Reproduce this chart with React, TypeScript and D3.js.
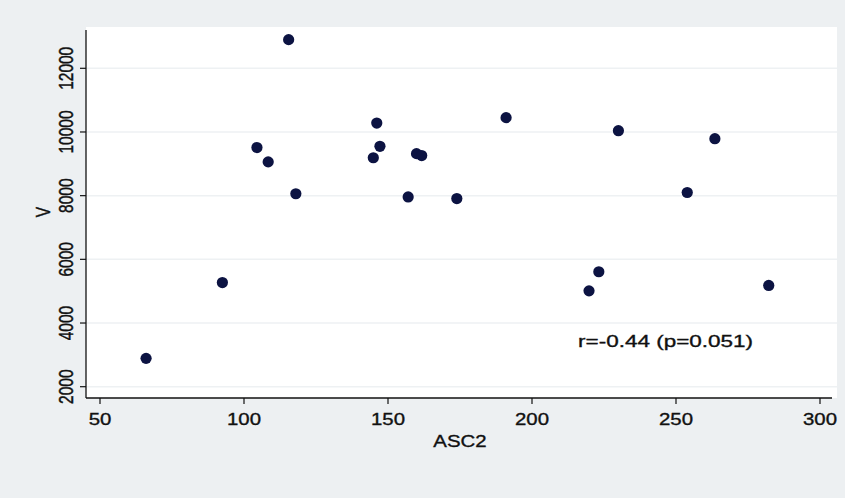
import React from "react";
import * as d3 from "d3";

const ascValues = [66, 92.5, 104.5, 108.4, 115.5, 118, 144.9, 146.1, 147.2, 157, 159.9, 161.7, 173.9, 191, 219.8, 223.2, 230, 253.9, 263.5, 282.2];
const vValues = [2890, 5270, 9510, 9060, 12900, 8060, 9190, 10280, 9550, 7960, 9320, 9260, 7910, 10450, 5010, 5610, 10040, 8100, 9790, 5180];
const xTicks = [50, 100, 150, 200, 250, 300];
const yTicks = [2000, 4000, 6000, 8000, 10000, 12000];
const xTitle = "ASC2";
const yTitle = "V";
const annotation = "r=-0.44 (p=0.051)";

const W = 845;
const H = 498;

export default function App() {
  const x = d3.scaleLinear().domain([50, 300]).range([100, 820]);
  const y = d3.scaleLinear().domain([2000, 12000]).range([386.7, 68.3]);
  const axisX = 86;
  const axisY = 398;
  const font = "'Liberation Sans', Arial, Helvetica, sans-serif";
  const ink = "#111111";
  const textStroke = { stroke: ink, strokeWidth: 0.35 };
  return (
    <svg width={W} height={H} style={{ position: "fixed", left: 0, top: 0 }} fontFamily={font}>
      <rect x={0} y={0} width={W} height={H} fill="#edf0f2" />
      <rect x={axisX} y={27} width={837 - axisX} height={axisY - 27} fill="#ffffff" />
      {yTicks.map((t) => (
        <line key={"g" + t} x1={axisX} x2={837} y1={y(t)} y2={y(t)} stroke="#eef1f3" strokeWidth={1.5} />
      ))}
      <line x1={axisX} x2={axisX} y1={30} y2={axisY} stroke={ink} strokeWidth={1.3} />
      <line x1={axisX} x2={832} y1={axisY} y2={axisY} stroke={ink} strokeWidth={1.3} />
      {yTicks.map((t) => (
        <g key={"y" + t}>
          <line x1={axisX - 6} x2={axisX} y1={y(t)} y2={y(t)} stroke={ink} strokeWidth={1.2} />
          <text
            transform={`translate(73,${y(t)}) scale(1.35,1) rotate(-90)`}
            textAnchor="middle"
            fontSize={15.5}
            fill={ink}
            {...textStroke}
          >
            {t}
          </text>
        </g>
      ))}
      {xTicks.map((t) => (
        <g key={"x" + t}>
          <line x1={x(t)} x2={x(t)} y1={axisY} y2={axisY + 6} stroke={ink} strokeWidth={1.2} />
          <text
            transform={`translate(${x(t)},425) scale(1.2,1)`}
            textAnchor="middle"
            fontSize={17}
            fill={ink}
            {...textStroke}
          >
            {t}
          </text>
        </g>
      ))}
      <text transform={`translate(460,447) scale(1.2,1)`} textAnchor="middle" fontSize={17} fill={ink} {...textStroke}>
        {xTitle}
      </text>
      <text transform={`translate(50,212) scale(1.35,1) rotate(-90)`} textAnchor="middle" fontSize={15.5} fill={ink} {...textStroke}>
        {yTitle}
      </text>
      {ascValues.map((a, i) => (
        <circle key={"p" + i} cx={x(a)} cy={y(vValues[i])} r={5.6} fill="#0c1342" />
      ))}
      <text
        x={x(216)}
        y={y(3250)}
        fontSize={17}
        fill={ink}
        textLength={175}
        lengthAdjust="spacingAndGlyphs"
        {...textStroke}
      >
        {annotation}
      </text>
    </svg>
  );
}
